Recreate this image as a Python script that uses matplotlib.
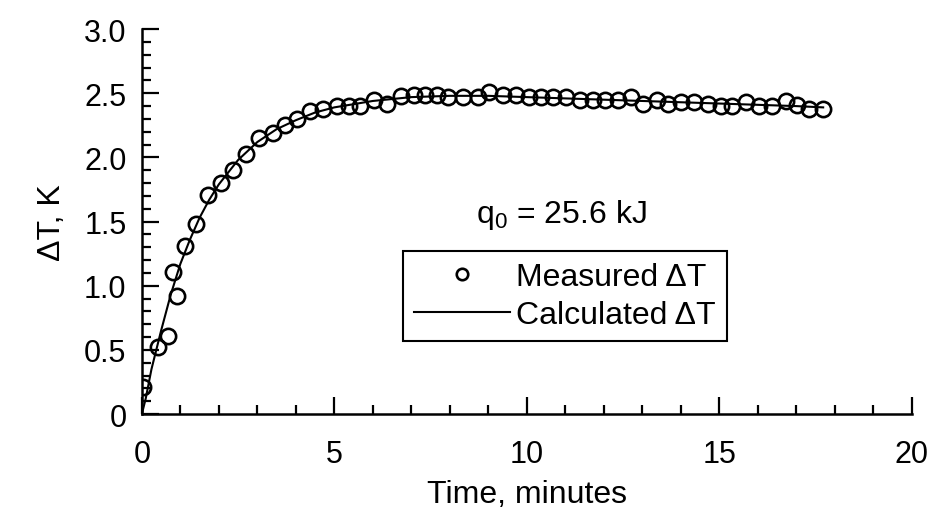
import matplotlib.pyplot as plt
from matplotlib.ticker import MultipleLocator

plt.rcParams['font.family'] = ['Liberation Sans', 'DejaVu Sans']

# measured points (minutes, K)
t_meas = [0.04, 0.42, 0.69, 0.82, 0.91, 1.12, 1.40, 1.73, 2.06, 2.36,
          2.71, 3.05, 3.40, 3.72, 4.03, 4.37, 4.70, 5.06, 5.39, 5.67,
          6.03, 6.38, 6.73, 7.07, 7.36, 7.68, 7.96, 8.35, 8.74, 9.03,
          9.37, 9.72, 10.06, 10.37, 10.69, 11.02, 11.39, 11.71, 12.02, 12.36,
          12.70, 13.03, 13.39, 13.68, 14.01, 14.35, 14.70, 15.05, 15.34, 15.70,
          16.03, 16.38, 16.73, 17.01, 17.34, 17.70]
dT_meas = [0.21, 0.52, 0.61, 1.11, 0.92, 1.31, 1.48, 1.71, 1.80, 1.90,
           2.03, 2.15, 2.19, 2.25, 2.30, 2.36, 2.38, 2.40, 2.40, 2.40,
           2.45, 2.42, 2.48, 2.49, 2.49, 2.49, 2.47, 2.47, 2.47, 2.51,
           2.49, 2.49, 2.47, 2.47, 2.47, 2.47, 2.45, 2.45, 2.45, 2.45,
           2.47, 2.42, 2.45, 2.42, 2.43, 2.43, 2.42, 2.40, 2.40, 2.43,
           2.40, 2.40, 2.44, 2.41, 2.38, 2.38]

# calculated curve
t_calc = [0.0, 0.1, 0.25, 0.5, 0.75, 1.0, 1.25, 1.5, 1.75, 2.0, 2.5, 3.0,
          3.5, 4.0, 4.5, 5.0, 6.0, 7.0, 8.0, 9.0, 10.0, 11.0, 12.0, 13.0,
          14.0, 15.0, 16.0, 17.0, 17.7]
dT_calc = [0.0, 0.12, 0.35, 0.65, 0.93, 1.17, 1.36, 1.53, 1.67, 1.79, 1.98, 2.12,
           2.22, 2.29, 2.35, 2.39, 2.44, 2.47, 2.48, 2.48, 2.47, 2.46, 2.45, 2.44,
           2.43, 2.42, 2.41, 2.40, 2.39]

fig = plt.figure(figsize=(9.27, 5.10), dpi=100)
ax = fig.add_axes([0.153, 0.186, 0.8305, 0.755])

ax.plot(t_meas, dT_meas, 'o', mfc='none', mec='black', ms=11, mew=1.9,
        label='Measured ΔT', zorder=3)
ax.plot(t_calc, dT_calc, '-', color='black', lw=1.5, label='Calculated ΔT')

ax.set_xlim(0, 20)
ax.set_ylim(0, 3.0)
ax.xaxis.set_major_locator(MultipleLocator(5))
ax.xaxis.set_minor_locator(MultipleLocator(1))
ax.yaxis.set_minor_locator(MultipleLocator(0.1))
ax.set_yticks([0, 0.5, 1.0, 1.5, 2.0, 2.5, 3.0])
ax.set_yticklabels(['0', '0.5', '1.0', '1.5', '2.0', '2.5', '3.0'])

for s in ['top', 'right']:
    ax.spines[s].set_visible(False)
for s in ['left', 'bottom']:
    ax.spines[s].set_linewidth(1.8)

ax.tick_params(which='both', direction='in', width=1.6, labelsize=22)
ax.tick_params(which='major', length=12)
ax.tick_params(which='minor', length=6.5)
ax.tick_params(axis='y', pad=11)
ax.tick_params(axis='x', pad=18)

ax.set_xlabel('Time, minutes', fontsize=23, labelpad=7)
ax.set_ylabel('ΔT, K', fontsize=23, labelpad=12)

ax.text(10.9, 1.50, r'$\mathregular{q_0}$ = 25.6 kJ', fontsize=23,
        ha='center', va='baseline')

leg = ax.legend(loc='upper left', bbox_to_anchor=(0.339, 0.424), fontsize=23,
                frameon=True, fancybox=False, edgecolor='black', framealpha=1,
                handlelength=3.0, handletextpad=0.2, borderpad=0.35,
                labelspacing=0.25, markerscale=0.75, borderaxespad=0)
leg.get_frame().set_linewidth(1.5)

fig.savefig('out.png', dpi=100)
